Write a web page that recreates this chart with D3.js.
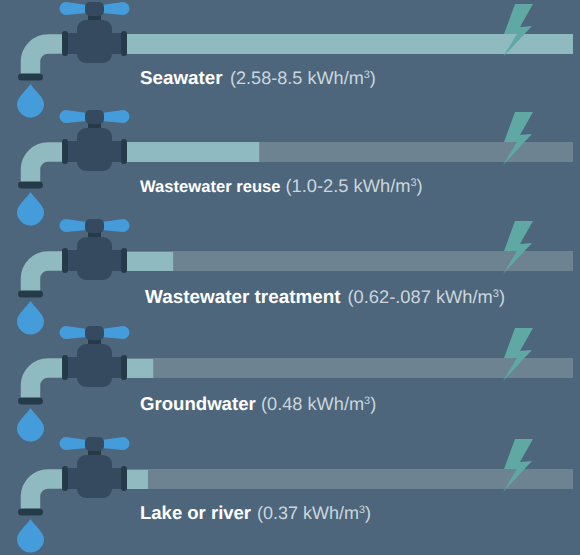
<!DOCTYPE html>
<html><head><meta charset="utf-8">
<script src="https://cdn.jsdelivr.net/npm/d3@7"></script>
<style>html,body{margin:0;padding:0;background:#4D667B;overflow:hidden}svg{display:block}text{font-family:"Liberation Sans",Arial,sans-serif;text-rendering:geometricPrecision}</style>
</head><body><div id="c"></div>
<script>
const sources = ["Seawater","Wastewater reuse","Wastewater treatment","Groundwater","Lake or river"];
const ranges = ["(2.58-8.5 kWh/m","(1.0-2.5 kWh/m","(0.62-.087 kWh/m","(0.48 kWh/m","(0.37 kWh/m"];
const energy = [8.5,2.52,0.88,0.5,0.4];
const maxEnergy = 8.5;

const rowTops = [34,142,251,358,469];
const nameX = [140,140,145,140,140];
const rangeX = [230,285.5,347.5,261,257];
const nameSize = [18.8,16.6,18.9,18.6,18.5];
const rangeSize = [18.1,18.3,18.3,18.2,18];
const baseOffset = [50,50,52,51.5,50];

const W=580,H=555;
const col={bg:"#4D667B",pipe:"#8FBABF",track:"#6D8392",body:"#354A5E",dark:"#263B49",blue:"#459CDB",bolt:"#5FA8A4",rng:"#CBD6DC"};
const svg=d3.select("#c").append("svg").attr("width",W).attr("height",H);
svg.append("rect").attr("width",W).attr("height",H).attr("fill",col.bg);

const x=d3.scaleLinear().domain([0,maxEnergy]).range([127,573]);
const y=d3.scaleOrdinal(sources,rowTops);
const rowH=20;

const rows=svg.selectAll("g.row").data(sources.map((s,i)=>({s,i,v:energy[i]}))).join("g")
  .attr("class","row").attr("transform",d=>`translate(0,${y(d.s)})`);

// track and filled part
rows.append("rect").attr("x",x(0)).attr("y",0).attr("width",x(maxEnergy)-x(0)).attr("height",rowH).attr("fill",col.track);
rows.append("rect").attr("x",x(0)).attr("y",d=>d.i>=2?1:0).attr("width",d=>x(d.v)-x(0)).attr("height",d=>d.i>=2?19:rowH).attr("fill",col.pipe);

// lightning bolt
rows.append("path").attr("fill",col.bolt)
  .attr("d",d3.line()([[515,-30],[533,-30],[520,-7],[532,-8],[503,23],[517,0],[504,0]])+"Z");

// spout
const sp=d3.path(); sp.moveTo(64,10); sp.lineTo(48,10); sp.arcTo(30.5,10,30.5,27.5,17.5); sp.lineTo(30.5,41);
rows.append("path").attr("d",sp.toString()).attr("fill","none").attr("stroke",col.pipe).attr("stroke-width",19.5);
rows.append("rect").attr("x",18).attr("y",39.5).attr("width",25).attr("height",7).attr("rx",3.5).attr("fill",col.dark);

// drop
rows.append("path").attr("fill",col.blue)
  .attr("d","M30.5,50 C34,56 44,63 44,70 A13.5,13.5 0 0 1 17,70 C17,63 27,56 30.5,50Z");

// valve
rows.append("rect").attr("x",88).attr("y",-20).attr("width",13).attr("height",10).attr("fill",col.dark);
rows.append("rect").attr("x",66).attr("y",-1).attr("width",57).attr("height",21).attr("fill",col.body);
rows.append("rect").attr("x",77).attr("y",-14).attr("width",35).attr("height",43).attr("rx",9).attr("fill",col.body);
rows.append("rect").attr("x",62).attr("y",-3).attr("width",6).attr("height",25).attr("rx",3).attr("fill",col.dark);
rows.append("rect").attr("x",121).attr("y",-3).attr("width",6).attr("height",25).attr("rx",3).attr("fill",col.dark);
rows.append("path").attr("fill",col.blue).attr("d","M87,-29 L66,-32 A6.5,6.5 0 0 0 66,-19 L87,-21Z");
rows.append("path").attr("fill",col.blue).attr("d","M102,-29 L123,-32 A6.5,6.5 0 0 1 123,-19 L102,-21Z");
rows.append("rect").attr("x",85).attr("y",-32).attr("width",19).attr("height",14).attr("rx",5).attr("fill",col.body);

// labels
rows.append("text").attr("x",d=>nameX[d.i]).attr("y",d=>baseOffset[d.i]).attr("font-size",d=>nameSize[d.i])
  .attr("font-weight","bold").attr("fill","#fff").text(d=>d.s);
const t=rows.append("text").attr("x",d=>rangeX[d.i]).attr("y",d=>baseOffset[d.i]).attr("font-size",d=>rangeSize[d.i]).attr("fill",col.rng);
t.append("tspan").text(d=>ranges[d.i]);
t.append("tspan").attr("dy",-6).attr("font-size",d=>rangeSize[d.i]*0.6).text("3");
t.append("tspan").attr("dy",6).text(")");
</script></body></html>
